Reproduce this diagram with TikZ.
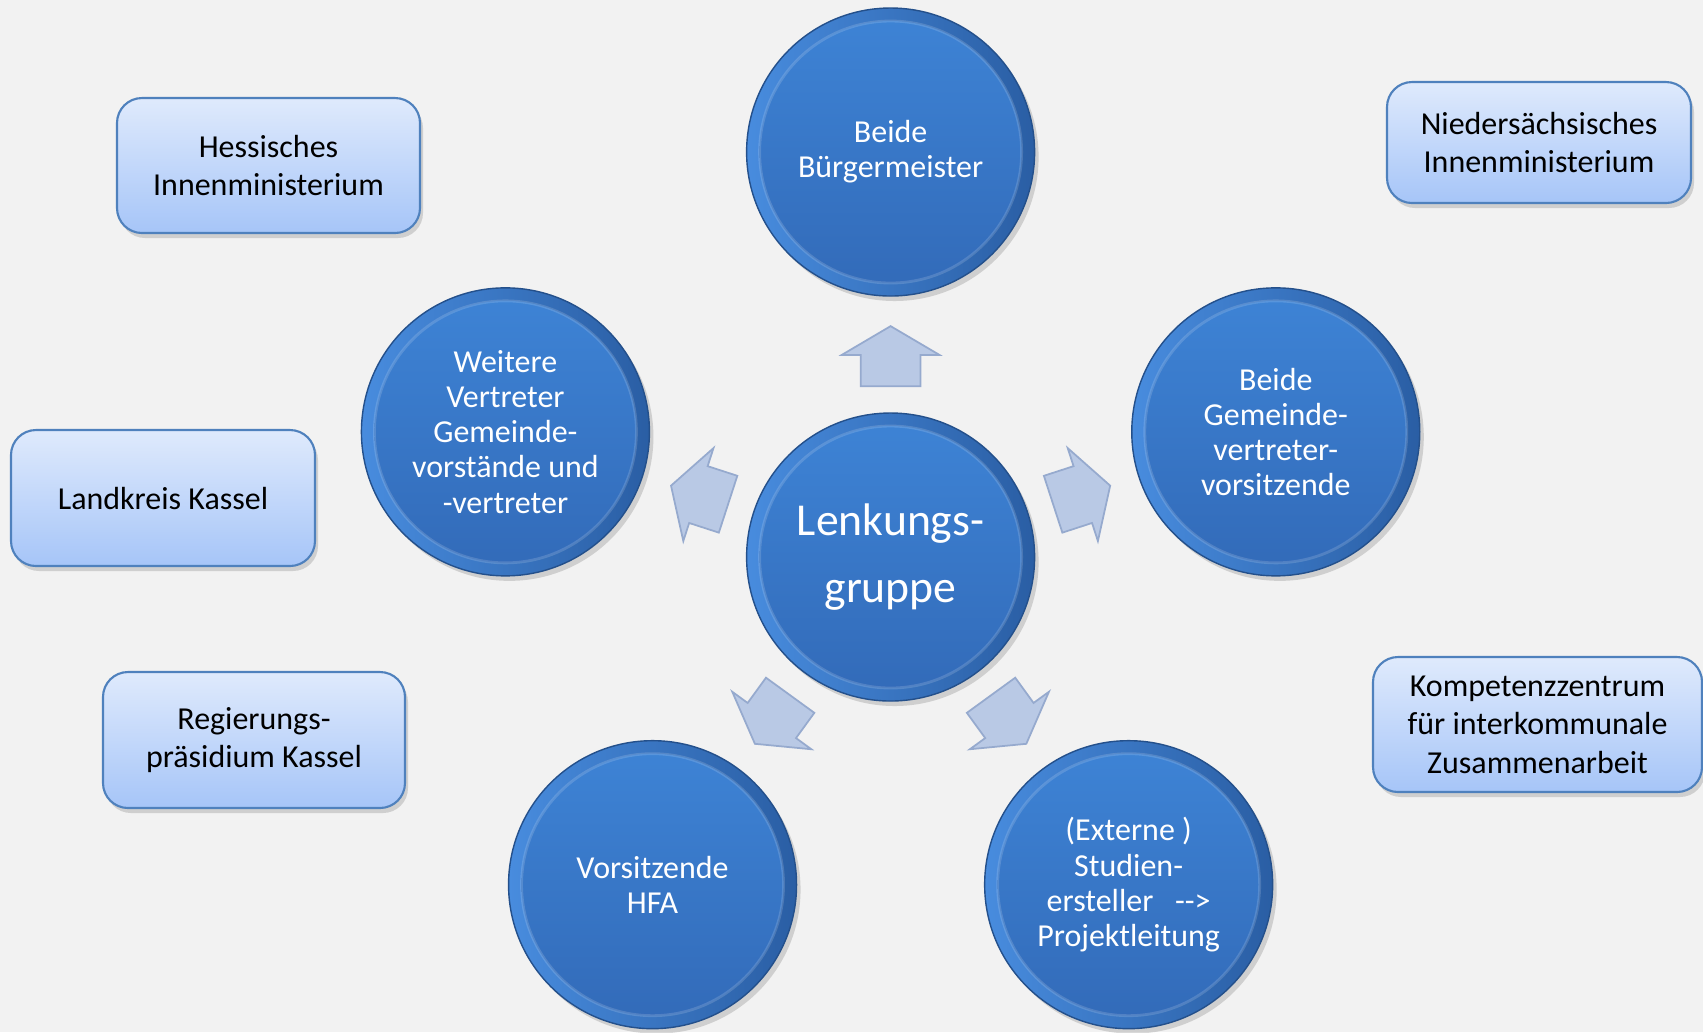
\documentclass[tikz,border=0pt]{standalone}
\usepackage{fontspec}
\setmainfont{Carlito}
\usetikzlibrary{positioning,calc,shapes.arrows,shadows}
\definecolor{bgcol}{RGB}{242,242,242}
\definecolor{rimblue}{RGB}{42,94,164}
\definecolor{rimlight}{RGB}{72,140,222}
\definecolor{topblue}{RGB}{62,132,214}
\definecolor{botblue}{RGB}{50,106,184}
\definecolor{orgline}{RGB}{79,129,189}
\definecolor{orgtop}{RGB}{223,234,252}
\definecolor{orgbot}{RGB}{166,197,248}
\definecolor{arrfill}{RGB}{185,201,229}
\definecolor{arrline}{RGB}{150,170,206}

\begin{document}
\begin{tikzpicture}[
  bubble/.style={circle, minimum size=2.88cm, inner sep=0pt, left color=rimlight, right color=rimblue,
    draw=rimblue!85!black, line width=0.4pt, text=white, align=center, font=\fontsize{9.1}{10}\selectfont,
    drop shadow={opacity=0.3, shadow xshift=0.04cm, shadow yshift=-0.05cm},
    path picture={
      \shade[top color=topblue, bottom color=botblue] (path picture bounding box.center) circle (1.31cm);
      \draw[white, opacity=0.15, line width=0.8pt] (path picture bounding box.center) circle (1.31cm);}},
  hub/.style={bubble, font=\fontsize{13}{19}\selectfont},
  org/.style={draw=orgline, line width=0.6pt, rounded corners=0.25cm, top color=orgtop, bottom color=orgbot,
    align=center, inner sep=0pt, font=\fontsize{9.1}{11}\selectfont,
    drop shadow={opacity=0.3, shadow xshift=0.03cm, shadow yshift=-0.05cm}},
  blockarr/.style={single arrow, fill=arrfill, draw=arrline, line width=0.5pt, minimum height=0.6cm,
    minimum width=0.96cm, inner xsep=0pt, inner ysep=0.29cm, single arrow head extend=0.19cm,
    single arrow tip angle=119, anchor=tail}]
\path[use as bounding box, fill=bgcol] (0,0) rectangle (17.03,-10.32);
\clip (0,0) rectangle (17.03,-10.32);

% centre and the five groups round it
\node[hub] (lg) at (8.906,-5.57) {Lenkungs-\\gruppe};
\node[bubble] (bm) at ($(lg)+(90:4.05)$) {Beide\\Bürgermeister};
\node[bubble] (wv) at ($(lg)+(162:4.05)$) {Weitere\\Vertreter\\Gemeinde-\\vorstände und\\-vertreter};
\node[bubble] (gv) at ($(lg)+(18:4.05)$) {Beide\\Gemeinde-\\vertreter-\\vorsitzende};
\node[bubble] (hfa) at ($(lg)+(234:4.05)$) {Vorsitzende\\HFA};
\node[bubble] (pl) at ($(lg)+(306:4.05)$) {(Externe\ )\\Studien-\\ersteller\ \ \ {-}{-}>\\Projektleitung};

\node[blockarr, rotate=90] (a1) at ($(lg)+(90:1.70)$) {};
\node[blockarr, rotate=162] (a2) at ($(lg)+(162:1.70)$) {};
\node[blockarr, rotate=18] (a3) at ($(lg)+(18:1.70)$) {};
\node[blockarr, rotate=234] (a4) at ($(lg)+(234:1.70)$) {};
\node[blockarr, rotate=306] (a5) at ($(lg)+(306:1.70)$) {};

% outside partners
\node[org, minimum width=3.03cm, minimum height=1.35cm] (hmi) at (2.685,-1.655) {Hessisches\\Innenministerium};
\node[org, minimum width=3.04cm, minimum height=1.36cm] (lk) at (1.63,-4.98) {Landkreis Kassel};
\node[org, minimum width=3.02cm, minimum height=1.36cm] (rp) at (2.54,-7.40) {Regierungs-\\präsidium Kassel};
\node[org, minimum width=3.04cm, minimum height=1.21cm] (nmi) at (15.39,-1.425) {Niedersächsisches\\Innenministerium};
\node[org, minimum width=3.29cm, minimum height=1.35cm] (kiz) at (15.375,-7.245) {Kompetenzzentrum\\für interkommunale\\Zusammenarbeit};
\end{tikzpicture}
\end{document}
